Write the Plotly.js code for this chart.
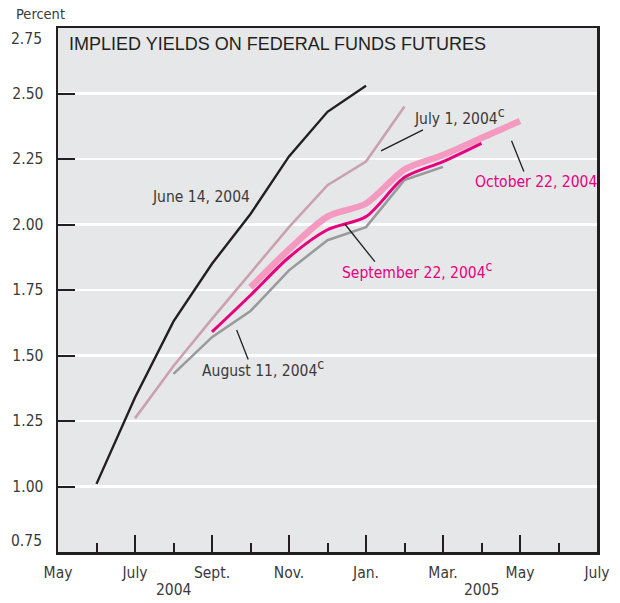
<!DOCTYPE html>
<html>
<head>
<meta charset="utf-8">
<script src="https://cdn.plot.ly/plotly-3.0.1.min.js"></script>
<style>html,body{margin:0;padding:0;background:#fff;}#chart{width:620px;height:603px;}</style>
</head>
<body>
<div id="chart"></div>
<script>
// Months since May 2004 (0 = May 2004, 14 = July 2005)
const tickPositions = [0, 2, 4, 6, 8, 10, 12, 14];
const tickLabels = ['May', 'July', 'Sept.', 'Nov.', 'Jan.', 'Mar.', 'May', 'July'];
const yTickValues = [1.00, 1.25, 1.50, 1.75, 2.00, 2.25, 2.50];
const yTickLabels = ['1.00', '1.25', '1.50', '1.75', '2.00', '2.25', '2.50'];
const yEndLabels = ['0.75', '2.75'];

const june14Months = [1, 2, 3, 4, 5, 6, 7, 8];
const june14Values = [1.01, 1.34, 1.63, 1.85, 2.04, 2.26, 2.43, 2.53];

const july1Months = [2, 3, 4, 5, 6, 7, 8, 9];
const july1Values = [1.26, 1.46, 1.64, 1.815, 1.99, 2.15, 2.24, 2.45];

const aug11Months = [3, 4, 5, 6, 7, 8, 9, 10];
const aug11Values = [1.43, 1.57, 1.67, 1.825, 1.94, 1.99, 2.17, 2.22];

const sep22Months = [4, 5, 6, 7, 8, 9, 10, 11];
const sep22Values = [1.59, 1.73, 1.875, 1.98, 2.03, 2.18, 2.24, 2.31];

const oct22Months = [5, 6, 7, 8, 9, 10, 11, 12];
const oct22Values = [1.76, 1.905, 2.03, 2.08, 2.21, 2.265, 2.33, 2.395];

const narrow = '"Liberation Sans Narrow", "DejaVu Sans Condensed", Arial, sans-serif';
const fs = 15.5;
const textGray = '#3a3a3a';
const magenta = '#e6007e';
const lightPink = '#f49ac1';

const traces = [
  {x: june14Months, y: june14Values, mode: 'lines', line: {color: '#231f20', width: 2.4}, hoverinfo: 'skip'},
  {x: july1Months, y: july1Values, mode: 'lines', line: {color: '#c9a1b3', width: 2.6}, hoverinfo: 'skip'},
  {x: aug11Months, y: aug11Values, mode: 'lines', line: {color: '#999a9c', width: 2.6}, hoverinfo: 'skip'},
  {x: oct22Months, y: oct22Values, mode: 'lines', line: {color: lightPink, width: 6.5, shape: 'spline', smoothing: 0.8}, hoverinfo: 'skip'},
  {x: sep22Months, y: sep22Values, mode: 'lines', line: {color: magenta, width: 3, shape: 'spline', smoothing: 0.8}, hoverinfo: 'skip'}
];

function lead(x0, y0, x1, y1) {
  return {type: 'line', xref: 'x', yref: 'y', x0: x0, y0: y0, x1: x1, y1: y1,
          line: {color: '#231f20', width: 1.3}};
}

const supC = '<sup><span style="font-size:14px">c</span></sup>';

const layout = {
  width: 620, height: 603,
  margin: {l: 58, r: 23, t: 28, b: 51},
  paper_bgcolor: '#ffffff',
  plot_bgcolor: '#e6e7e8',
  showlegend: false,
  font: {family: narrow, size: fs, color: textGray},
  xaxis: {
    range: [0, 14], tickmode: 'array', tickvals: tickPositions, ticktext: tickLabels,
    ticks: 'inside', ticklen: 17, tickwidth: 2, tickcolor: '#231f20',
    minor: {dtick: 1, tick0: 0, ticks: 'inside', ticklen: 9, tickwidth: 2, tickcolor: '#231f20', showgrid: false},
    showgrid: false, zeroline: false,
    showline: true, linecolor: '#231f20', linewidth: 2.5, mirror: true,
    tickfont: {family: narrow, size: fs, color: textGray},
    ticklabelstandoff: 5
  },
  yaxis: {
    range: [0.75, 2.75], tickmode: 'array', tickvals: yTickValues, ticktext: yTickLabels,
    ticks: 'inside', ticklen: 17, tickwidth: 2, tickcolor: '#231f20',
    showgrid: true, gridcolor: '#ffffff', gridwidth: 2.5, zeroline: false,
    showline: true, linecolor: '#231f20', linewidth: 2.5, mirror: true,
    tickfont: {family: narrow, size: fs, color: textGray},
    ticklabelstandoff: 9
  },
  shapes: [
    lead(8.39, 2.281, 9.48, 2.361),
    lead(11.78, 2.32, 12.10, 2.202),
    lead(7.45, 2.002, 8.23, 1.858),
    lead(4.64, 1.597, 4.94, 1.485)
  ],
  annotations: [
    {xref: 'paper', yref: 'y', x: -0.026, y: 0.75, xanchor: 'right', yanchor: 'bottom', showarrow: false,
     text: yEndLabels[0], font: {family: narrow, size: fs, color: textGray}},
    {xref: 'paper', yref: 'y', x: -0.026, y: 2.75, xanchor: 'right', yanchor: 'top', showarrow: false,
     text: yEndLabels[1], font: {family: narrow, size: fs, color: textGray}},
    {xref: 'paper', yref: 'paper', x: -0.082, y: 1.027, xanchor: 'left', yanchor: 'middle', showarrow: false,
     text: 'Percent', font: {family: narrow, size: 14.5, color: textGray}},
    {xref: 'paper', yref: 'paper', x: 0.0175, y: 0.97, xanchor: 'left', yanchor: 'middle', showarrow: false,
     text: 'IMPLIED YIELDS ON FEDERAL FUNDS FUTURES', font: {family: '"Liberation Sans", Arial, sans-serif', size: 18, color: '#231f20'}},
    {xref: 'x', yref: 'paper', x: 3, y: -0.073, xanchor: 'center', yanchor: 'middle', showarrow: false,
     text: '2004', font: {family: narrow, size: fs, color: textGray}},
    {xref: 'x', yref: 'paper', x: 11, y: -0.073, xanchor: 'center', yanchor: 'middle', showarrow: false,
     text: '2005', font: {family: narrow, size: fs, color: textGray}},
    {xref: 'x', yref: 'y', x: 2.39, y: 2.105, xanchor: 'left', yanchor: 'middle', showarrow: false,
     text: 'June 14, 2004', font: {family: narrow, size: fs, color: textGray}},
    {xref: 'x', yref: 'y', x: 9.19, y: 2.415, xanchor: 'left', yanchor: 'middle', showarrow: false,
     text: 'July 1, 2004' + supC, font: {family: narrow, size: fs, color: textGray}},
    {xref: 'x', yref: 'y', x: 10.79, y: 2.163, xanchor: 'left', yanchor: 'middle', showarrow: false,
     text: 'October 22, 2004', font: {family: narrow, size: fs, color: magenta}},
    {xref: 'x', yref: 'y', x: 7.32, y: 1.828, xanchor: 'left', yanchor: 'middle', showarrow: false,
     text: 'September 22, 2004' + supC, font: {family: narrow, size: fs, color: magenta}},
    {xref: 'x', yref: 'y', x: 3.69, y: 1.453, xanchor: 'left', yanchor: 'middle', showarrow: false,
     text: 'August 11, 2004' + supC, font: {family: narrow, size: fs, color: textGray}}
  ]
};

Plotly.newPlot('chart', traces, layout, {displayModeBar: false, staticPlot: true});
</script>
</body>
</html>
